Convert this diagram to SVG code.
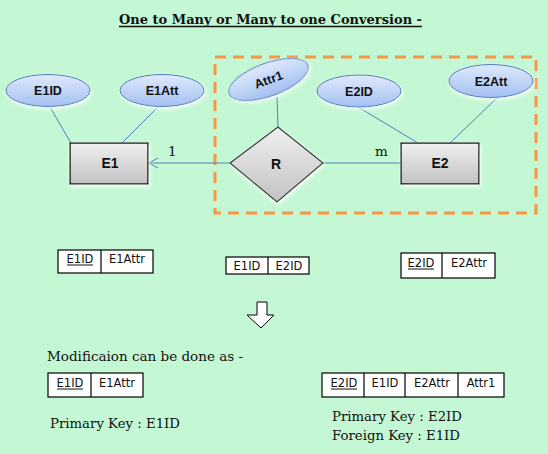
<svg xmlns="http://www.w3.org/2000/svg" width="548" height="454" viewBox="0 0 548 454">
<defs>
<linearGradient id="gEll" x1="0" y1="0" x2="0" y2="1">
<stop offset="0" stop-color="#e0eafc"/>
<stop offset="1" stop-color="#a3c0f2"/>
</linearGradient>
<linearGradient id="gBox" x1="0" y1="0" x2="0" y2="1">
<stop offset="0" stop-color="#f0f0f0"/>
<stop offset="1" stop-color="#c2c2c2"/>
</linearGradient>
<filter id="glow" x="-20%" y="-30%" width="140%" height="160%">
<feGaussianBlur in="SourceAlpha" stdDeviation="2"/>
<feOffset dx="1" dy="2" result="b"/>
<feFlood flood-color="#ffffff" flood-opacity="0.9"/>
<feComposite in2="b" operator="in"/>
<feMerge><feMergeNode/><feMergeNode in="SourceGraphic"/></feMerge>
</filter>
<marker id="open" markerWidth="12" markerHeight="12" refX="10" refY="5" orient="auto" markerUnits="userSpaceOnUse">
<path d="M1,0 L10,5 L1,10" fill="none" stroke="#4f81bd" stroke-width="1"/>
</marker>
</defs>
<style>
.ell{fill:url(#gEll);stroke:#4a7ebb;stroke-width:1;filter:url(#glow)}
.box{fill:url(#gBox);stroke:#000;stroke-width:1.3;filter:url(#glow)}
.dia{fill:url(#gBox);stroke:#333;stroke-width:1.2;filter:url(#glow)}
.lab{font-family:"Liberation Sans",Arial,sans-serif;font-weight:bold;font-size:12.5px;fill:#111;text-anchor:middle}
.big{font-size:14px}
.con{stroke:#4f81bd;stroke-width:1;fill:none}
.ser{font-family:"DejaVu Serif","Liberation Serif",serif;font-size:13.5px;fill:#111}
.cell{fill:#fff;stroke:#000;stroke-width:1.2}
.tt{font-family:"DejaVu Sans",Tahoma,sans-serif;font-size:11.5px;fill:#111;text-anchor:middle}
.ul{stroke:#111;stroke-width:1}
</style>
<rect width="548" height="454" fill="#c4f7d4"/>
<g id="title">
<text x="119" y="24" class="ser" font-weight="bold" textLength="303" lengthAdjust="spacingAndGlyphs">One to Many or Many to one Conversion -</text>
<line x1="119" y1="26.5" x2="422" y2="26.5" stroke="#111" stroke-width="1.3"/>
</g>
<rect id="group-box" x="215" y="57" width="321" height="156" fill="none" stroke="#f79646" stroke-width="3" stroke-dasharray="11 7"/>
<g id="connectors">
<line class="con" x1="50" y1="107" x2="71" y2="143"/>
<line class="con" x1="158" y1="107" x2="122" y2="143"/>
<line class="con" x1="277" y1="97" x2="278" y2="127"/>
<line class="con" x1="358" y1="107" x2="418" y2="143"/>
<line class="con" x1="498" y1="97" x2="450" y2="143"/>
<line class="con" x1="230" y1="163" x2="149" y2="163" marker-end="url(#open)"/>
<line class="con" x1="323" y1="163" x2="401" y2="163"/>
<text x="168" y="156" class="ser" font-size="14">1</text>
<text x="375" y="156" class="ser" font-size="14">m</text>
</g>
<g id="E1ID"><ellipse class="ell" cx="48" cy="90.5" rx="42" ry="16"/><text class="lab" x="48" y="95">E1ID</text></g>
<g id="E1Att"><ellipse class="ell" cx="162" cy="90.5" rx="42" ry="16"/><text class="lab" x="162" y="95">E1Att</text></g>
<g id="Attr1" transform="translate(268.5,79.5) rotate(-20)"><ellipse class="ell" cx="0" cy="0" rx="42" ry="16.5"/><text class="lab" x="0" y="4.5">Attr1</text></g>
<g id="E2ID"><ellipse class="ell" cx="359" cy="91" rx="42" ry="16"/><text class="lab" x="359" y="95.5">E2ID</text></g>
<g id="E2Att"><ellipse class="ell" cx="491" cy="81" rx="42" ry="16.5"/><text class="lab" x="491" y="85.5">E2Att</text></g>
<g id="E1"><rect class="box" x="70" y="143" width="78" height="41"/><text class="lab big" x="110" y="168">E1</text></g>
<g id="E2"><rect class="box" x="401" y="143" width="78" height="41"/><text class="lab big" x="440" y="168">E2</text></g>
<g id="R"><polygon class="dia" points="278,127 323,163 277,202 230,163"/><text class="lab big" x="276" y="169">R</text></g>
<g id="table-E1">
<rect class="cell" x="58" y="250" width="95" height="23"/><line class="cell" x1="101" y1="250" x2="101" y2="273"/>
<text class="tt" x="80" y="263">E1ID</text><line class="ul" x1="67" y1="265" x2="93" y2="265"/>
<text class="tt" x="127" y="263">E1Attr</text>
</g>
<g id="table-R">
<rect class="cell" x="226" y="257" width="83" height="17"/><line class="cell" x1="268" y1="257" x2="268" y2="274"/>
<text class="tt" x="247" y="269.5">E1ID</text>
<text class="tt" x="289" y="269.5">E2ID</text>
</g>
<g id="table-E2">
<rect class="cell" x="401" y="253" width="94" height="25"/><line class="cell" x1="442" y1="253" x2="442" y2="278"/>
<text class="tt" x="421" y="267">E2ID</text><line class="ul" x1="408" y1="269" x2="434" y2="269"/>
<text class="tt" x="469" y="267">E2Attr</text>
</g>
<polygon id="down-arrow" points="257,302 267,302 267,315 274,315 261,328 247,315 257,315" fill="#fff" stroke="#000" stroke-width="1"/>
<text x="47" y="361" class="ser" textLength="196" lengthAdjust="spacingAndGlyphs">Modificaion can be done as -</text>
<g id="table-E1-new">
<rect class="cell" x="48" y="373" width="95" height="24"/><line class="cell" x1="91" y1="373" x2="91" y2="397"/>
<text class="tt" x="70" y="387">E1ID</text><line class="ul" x1="57" y1="389" x2="83" y2="389"/>
<text class="tt" x="117" y="387">E1Attr</text>
</g>
<g id="table-E2-new">
<rect class="cell" x="322" y="373" width="182" height="24"/>
<line class="cell" x1="364" y1="373" x2="364" y2="397"/>
<line class="cell" x1="405" y1="373" x2="405" y2="397"/>
<line class="cell" x1="458" y1="373" x2="458" y2="397"/>
<text class="tt" x="344" y="387">E2ID</text><line class="ul" x1="331" y1="389" x2="357" y2="389"/>
<text class="tt" x="385" y="387">E1ID</text>
<text class="tt" x="432" y="387">E2Attr</text>
<text class="tt" x="481" y="387">Attr1</text>
</g>
<text x="50" y="428" class="ser" textLength="130" lengthAdjust="spacingAndGlyphs">Primary Key : E1ID</text>
<text x="332" y="421" class="ser" textLength="130" lengthAdjust="spacingAndGlyphs">Primary Key : E2ID</text>
<text x="332" y="440" class="ser" textLength="128" lengthAdjust="spacingAndGlyphs">Foreign Key : E1ID</text>
</svg>
